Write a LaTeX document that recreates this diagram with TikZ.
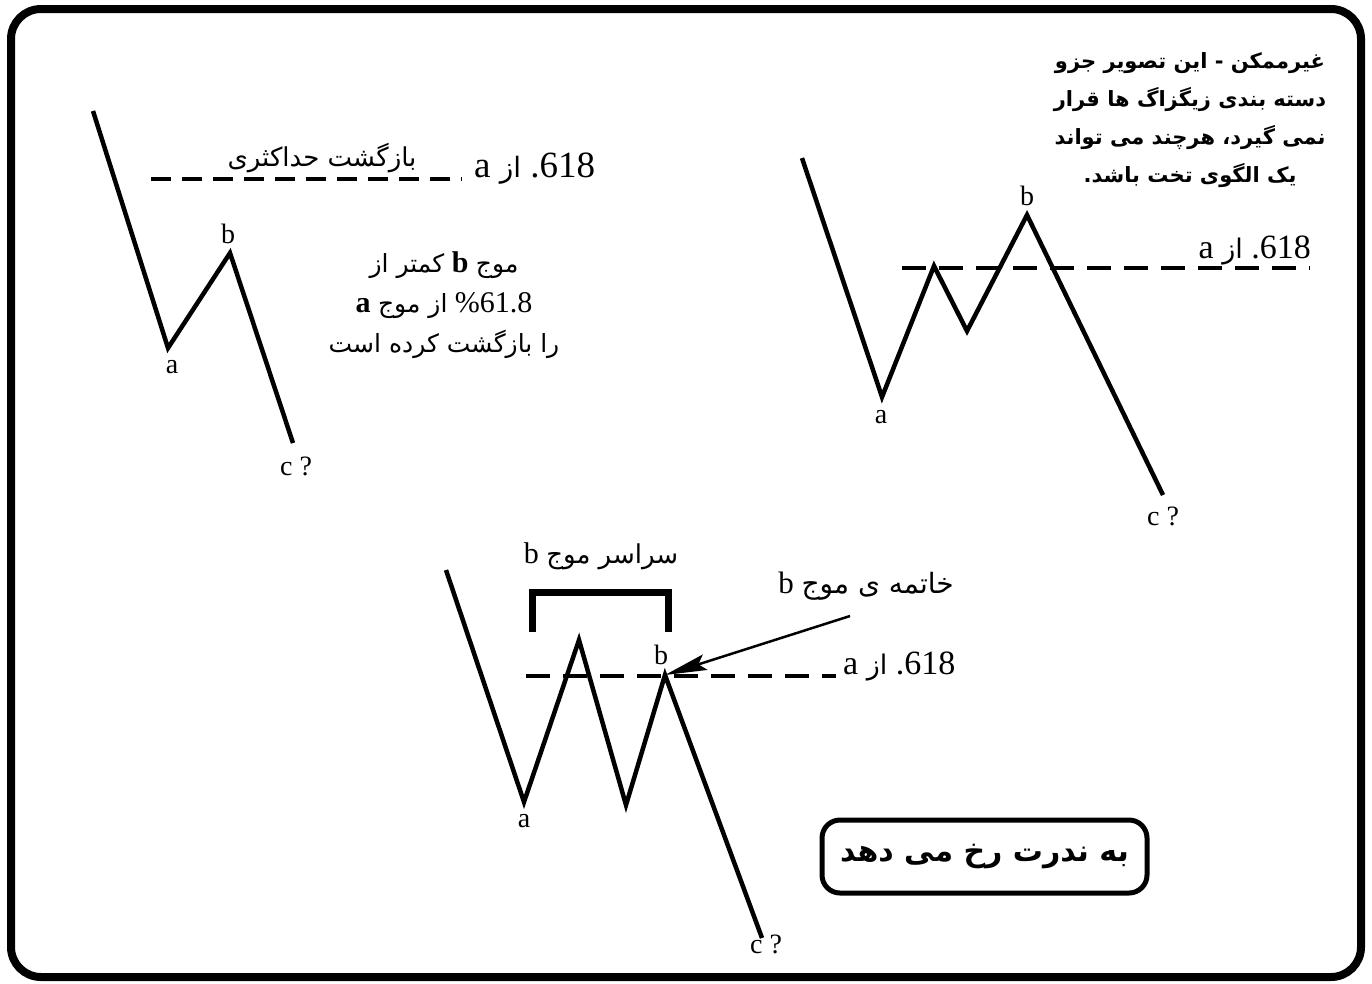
\documentclass[tikz,border=0pt]{standalone}
\usepackage{fontspec}
\setmainfont{Liberation Serif}
\newfontfamily\fa[Script=Arabic]{DejaVu Sans}
\TeXXeTstate=1
\usetikzlibrary{arrows.meta}
\newcommand{\faR}[1]{{\fa\beginR #1\endR}}
\begin{document}
\begin{tikzpicture}[x=1pt,y=-1pt,
  wave/.style={line width=4.5pt, line join=miter, miter limit=20},
  lvlL/.style={line width=4pt, dash pattern=on 20pt off 11pt},
  lvlR/.style={line width=4pt, dash pattern=on 24pt off 13pt},
  lbl/.style={inner sep=0pt, font=\fontsize{28}{30}\selectfont},
  txt/.style={inner sep=0pt, align=center},
]
\useasboundingbox (0,0) rectangle (1372,983);
\draw[line width=8pt, rounded corners=30pt] (11,9) rectangle (1361,977);

% ---------- left diagram ----------
\coordinate (L0) at (93,111);
\coordinate (La) at (168,348);
\coordinate (Lb) at (230,253);
\coordinate (Lc) at (293,443);
\draw[wave] (L0) -- (La) -- (Lb) -- (Lc);
\coordinate (LdS) at (151,179);
\coordinate (LdE) at (462,179);
\draw[lvlL] (LdS) -- (LdE);
\node[txt, font=\fontsize{26}{28}\selectfont] (Lmax) at (322,158) {\faR{بازگشت حداکثری}};
\node[txt, font=\fontsize{37}{38}\selectfont, anchor=west] (Llev) at (474,169) {a \faR{\fontsize{28}{30}\selectfont از} .618};
\node[lbl] (Lla) at (172,367) {a};
\node[lbl] (Llb) at (228,234) {b};
\node[lbl] (Llc) at (296,466) {c ?};
\node[txt, font=\fontsize{30}{40}\selectfont] (Lnote) at (444,305)
  {{\fontsize{25}{26}\selectfont\faR{کمتر از}} \textbf{b} {\fontsize{25}{26}\selectfont\faR{موج}}\\
   \textbf{a} {\fontsize{25}{26}\selectfont\faR{از موج}} \%61.8\\
   {\fontsize{25}{26}\selectfont\faR{را بازگشت کرده است}}};

% ---------- right diagram ----------
\coordinate (R0) at (802,158);
\coordinate (Ra) at (882,397);
\coordinate (R1) at (934,266);
\coordinate (R2) at (967,331);
\coordinate (Rb) at (1027,215);
\coordinate (Rc) at (1163,495);
\draw[wave] (R0) -- (Ra) -- (R1) -- (R2) -- (Rb) -- (Rc);
\coordinate (RdS) at (902,268);
\coordinate (RdE) at (1310,268);
\draw[lvlR] (RdS) -- (RdE);
\node[txt, font=\fontsize{34}{36}\selectfont, anchor=east] (Rlev) at (1311,250) {a \faR{\fontsize{27}{28}\selectfont از} .618};
\node[lbl] (Rla) at (881,417) {a};
\node[lbl] (Rlb) at (1027,196) {b};
\node[lbl] (Rlc) at (1163,516) {c ?};
\node[txt, font=\fa\bfseries\fontsize{21}{38}\selectfont] (Rnote) at (1190,120)
  {\faR{غیرممکن - این تصویر جزو}\\
   \faR{دسته بندی زیگزاگ ها قرار}\\
   \faR{نمی گیرد، هرچند می تواند}\\
   \faR{یک الگوی تخت باشد.}};

% ---------- bottom diagram ----------
\coordinate (B0) at (446,570);
\coordinate (Ba) at (524,802);
\coordinate (B1) at (579,640);
\coordinate (B2) at (626,805);
\coordinate (Bb) at (665,675);
\coordinate (Bc) at (762,938);
\draw[wave] (B0) -- (Ba) -- (B1) -- (B2) -- (Bb) -- (Bc);
\coordinate (BdS) at (526,676);
\coordinate (BdE) at (836,676);
\draw[lvlR] (BdS) -- (BdE);
\node[txt, font=\fontsize{34}{36}\selectfont, anchor=west] (Blev) at (843,666) {a \faR{\fontsize{27}{28}\selectfont از} .618};
\node[lbl] (Bla) at (524,821) {a};
\node[lbl] (Blb) at (661,655) {b};
\node[lbl] (Blc) at (766,944) {c ?};
\coordinate (Br1) at (532,632);
\coordinate (Br2) at (532,592);
\coordinate (Br3) at (668,592);
\coordinate (Br4) at (668,632);
\draw[line width=7pt, line join=miter] (Br1) -- (Br2) -- (Br3) -- (Br4);
\node[txt, font=\fontsize{30}{32}\selectfont] (Ball) at (601,556) {b {\fontsize{26}{28}\selectfont\faR{سراسر موج}}};
\node[txt, font=\fontsize{31}{32}\selectfont] (Bend) at (866,586) {b {\fontsize{28}{30}\selectfont\faR{خاتمه ی موج}}};
\coordinate (ArS) at (850,616);
\draw[line width=2.5pt, -{Stealth[length=42pt,width=16pt,inset=7pt]}] (ArS) -- (Bb);
\node[draw, line width=5pt, rounded corners=18pt, minimum width=325pt, minimum height=73pt,
      font=\fa\bfseries\fontsize{30}{32}\selectfont] (rare) at (984.5,856.5) {\faR{به ندرت رخ می دهد}};
\end{tikzpicture}
\end{document}
